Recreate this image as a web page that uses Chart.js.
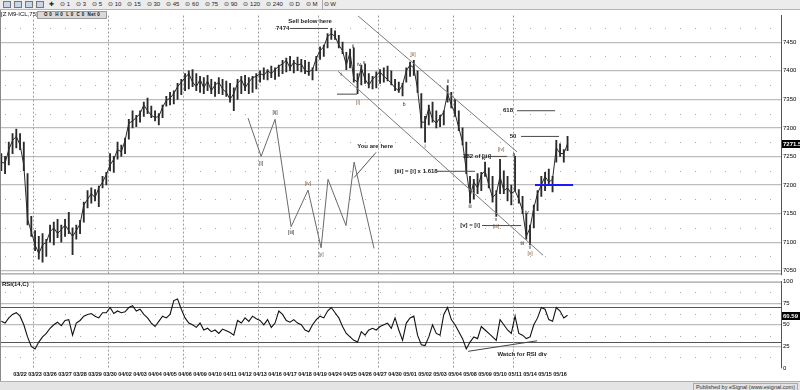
<!DOCTYPE html>
<html>
<head>
<meta charset="utf-8">
<title>Z M9-ICL 75 min with RSI</title>
<script src="https://cdn.jsdelivr.net/npm/chart.js@4.4.1/dist/chart.umd.min.js"></script>
<style>
  body { margin: 0; width: 800px; height: 390px; overflow: hidden; position: relative; background: #fff; font-family: "Liberation Sans", Arial, sans-serif; color: #111; }
  #toolbar { position: absolute; left: 0; top: 0; width: 800px; height: 9px; background: #ececec; border-bottom: 1px solid #b5b5b5; font-size: 6px; line-height: 9px; white-space: nowrap; display: flex; align-items: center; }
  #toolbar .ico { display: inline-block; width: 6px; height: 5px; margin-left: 3px; border: 1px solid #777; background: #c9d6e8; }
  #toolbar .iv { margin-left: 6px; color: #222; }
  #toolbar .sep { position: absolute; left: 322px; top: 0; width: 1px; height: 9px; background: #aaa; }
  #symbol { position: absolute; left: 1px; top: 11px; font-size: 6px; line-height: 7px; }
  #ohlc { position: absolute; left: 37px; top: 11px; width: 68px; height: 6px; background: #d9d9d9; border: 1px solid #9a9a9a; font-size: 4.5px; line-height: 6px; text-align: center; font-weight: bold; letter-spacing: 0.3px; }
  #rsiTitle { position: absolute; left: 2px; top: 281px; font-size: 6px; font-weight: bold; z-index: 2; }
  canvas { position: absolute; left: 0; }
  #priceChart { top: 10px; }
  #rsiChart { top: 276px; }
  #frameLeft { position: absolute; left: 0; top: 10px; width: 1px; height: 371px; background: #8a8a8a; }
  #status { position: absolute; left: 0; top: 381px; width: 800px; height: 9px; background: #e4e4e4; border-top: 1px solid #b0b0b0; }
  #status span { position: absolute; right: 2px; top: 1px; font-size: 5.5px; line-height: 6px; border: 1px solid #aaa; padding: 0 2px; color: #333; }
</style>
</head>
<body>
<div id="toolbar">
  <span class="ico"></span><span class="ico"></span><span class="ico"></span><span class="ico"></span>
  <span class="iv" style="margin-left:5px">✚</span>
  <span class="iv">⊙ 1</span><span class="iv">⊙ 3</span><span class="iv">⊙ 5</span><span class="iv">⊙ 10</span>
  <span class="iv">⊙ 15</span><span class="iv">⊙ 30</span><span class="iv">⊙ 45</span><span class="iv">⊙ 60</span>
  <span class="iv">⊙ 75</span><span class="iv">⊙ 90</span><span class="iv">⊙ 120</span><span class="iv">⊙ 240</span>
  <span class="iv">⊙ D</span><span class="iv">⊙ M</span><span class="iv">⊙ W</span>
  <span class="sep"></span>
</div>
<canvas id="priceChart" width="800" height="270"></canvas>
<canvas id="rsiChart" width="800" height="104"></canvas>
<div id="symbol">[Z M9-ICL,75]</div>
<div id="ohlc">O 0 &nbsp;H 0 &nbsp;L 0 &nbsp;C 0 &nbsp;Net 0</div>
<div id="rsiTitle">RSI(14,C)</div>
<div id="frameLeft"></div>
<div id="status"><span>Published by eSignal (www.esignal.com)</span></div>

<script>
// date labels, one per trading day (x axis is in days, 0 = 03/22)
const dateLabels = ["03/22", "03/23", "03/26", "03/27", "03/28", "03/29", "03/30", "04/02", "04/03", "04/04",
  "04/05", "04/06", "04/09", "04/10", "04/11", "04/12", "04/13", "04/16", "04/17", "04/18",
  "04/19", "04/24", "04/25", "04/26", "04/27", "04/30", "05/01", "05/02", "05/03", "05/04",
  "05/08", "05/09", "05/10", "05/11", "05/14", "05/15", "05/16"];
const weekMarks = [1, 6, 11, 16, 20, 24, 29, 33];
const priceTicks = [7050, 7100, 7150, 7200, 7250, 7300, 7350, 7400, 7450];
const rsiTicks = [0, 25, 30, 50, 70, 75, 100];

// bars: 4 per day, first one at day -1.25
const firstBarDay = -1.25;
const barsPerDay = 4;
const barLows = [
  7225, 7220, 7235, 7255, 7265, 7262, 7225, 7130, 7110, 7085,
  7070, 7065, 7075, 7100, 7095, 7108, 7100, 7110, 7115, 7078,
  7105, 7115, 7135, 7160, 7168, 7172, 7162, 7195, 7200, 7225,
  7222, 7245, 7250, 7255, 7280, 7300, 7302, 7310, 7320, 7325,
  7318, 7312, 7305, 7318, 7338, 7340, 7342, 7350, 7358, 7365,
  7368, 7372, 7365, 7362, 7360, 7365, 7360, 7355, 7360, 7358,
  7355, 7345, 7330, 7350, 7360, 7365, 7360, 7362, 7368, 7380,
  7385, 7384, 7388, 7385, 7390, 7395, 7398, 7400, 7396, 7400,
  7398, 7395, 7392, 7384, 7400, 7420, 7425, 7440, 7455, 7455,
  7440, 7430, 7402, 7405, 7380, 7360, 7375, 7378, 7370, 7368,
  7370, 7378, 7380, 7382, 7375, 7365, 7362, 7356, 7380, 7390,
  7392, 7362, 7300, 7275, 7305, 7310, 7300, 7302, 7305, 7345,
  7335, 7320, 7295, 7270, 7220, 7168, 7175, 7185, 7190, 7215,
  7195, 7170, 7145, 7185, 7185, 7172, 7165, 7190, 7168, 7150,
  7105, 7095, 7125, 7155, 7180, 7190, 7200, 7188, 7240, 7250,
  7240, 7260];
const barHighs = [
  7255, 7250, 7275, 7290, 7298, 7290, 7275, 7220, 7145, 7120,
  7110, 7115, 7105, 7130, 7135, 7140, 7130, 7140, 7152, 7125,
  7130, 7138, 7170, 7190, 7195, 7192, 7198, 7215, 7222, 7255,
  7250, 7275, 7270, 7282, 7315, 7330, 7322, 7330, 7345, 7352,
  7338, 7330, 7325, 7340, 7355, 7362, 7365, 7378, 7385, 7395,
  7400, 7402, 7395, 7390, 7388, 7392, 7385, 7380, 7388, 7385,
  7382, 7378, 7370, 7385, 7390, 7392, 7388, 7390, 7395, 7400,
  7405, 7402, 7408, 7405, 7410, 7418, 7422, 7425, 7418, 7424,
  7420, 7418, 7415, 7405, 7425, 7442, 7445, 7465, 7474, 7470,
  7462, 7450, 7432, 7438, 7440, 7395, 7410, 7412, 7395, 7390,
  7398, 7402, 7405, 7408, 7400, 7385, 7380, 7378, 7405, 7415,
  7418, 7400, 7360, 7320, 7340, 7345, 7330, 7322, 7330, 7374,
  7362, 7350, 7330, 7300, 7275, 7215, 7210, 7220, 7222, 7240,
  7230, 7215, 7190, 7245, 7225, 7215, 7200, 7250, 7192, 7180,
  7150, 7130, 7165, 7190, 7215, 7222, 7228, 7215, 7278, 7272,
  7262, 7285];
const barCloses = [
  7240, 7238, 7262, 7278, 7285, 7270, 7235, 7140, 7118, 7095,
  7080, 7095, 7100, 7118, 7125, 7115, 7122, 7130, 7120, 7110,
  7120, 7132, 7165, 7175, 7185, 7178, 7195, 7205, 7218, 7235,
  7245, 7262, 7258, 7278, 7308, 7312, 7318, 7325, 7340, 7330,
  7322, 7318, 7320, 7336, 7348, 7352, 7360, 7372, 7380, 7388,
  7395, 7380, 7372, 7385, 7370, 7382, 7365, 7375, 7380, 7368,
  7362, 7350, 7360, 7378, 7385, 7370, 7380, 7388, 7390, 7395,
  7392, 7400, 7395, 7402, 7408, 7412, 7418, 7405, 7415, 7410,
  7412, 7400, 7398, 7402, 7422, 7435, 7442, 7460, 7465, 7460,
  7445, 7435, 7410, 7432, 7385, 7380, 7405, 7385, 7375, 7385,
  7392, 7398, 7390, 7385, 7378, 7370, 7365, 7375, 7400, 7410,
  7405, 7368, 7310, 7310, 7335, 7315, 7308, 7318, 7328, 7360,
  7340, 7325, 7300, 7275, 7225, 7180, 7205, 7195, 7218, 7225,
  7200, 7178, 7185, 7215, 7190, 7195, 7185, 7190, 7175, 7155,
  7110, 7125, 7160, 7185, 7200, 7215, 7205, 7210, 7265, 7255,
  7255, 7272];
const rsiValues = [
  54, 52, 58, 62, 64, 60, 50, 36, 25, 22,
  30, 36, 40, 46, 50, 53, 49, 55, 56, 38,
  52, 55, 60, 62, 63, 60, 58, 64, 64, 70,
  63, 66, 64, 65, 70, 72, 66, 68, 62, 58,
  52, 48, 54, 60, 58, 62, 78, 80, 68, 58,
  52, 50, 47, 52, 44, 46, 42, 44, 40, 45,
  43, 41, 38, 55, 52, 58, 54, 60, 57, 55,
  50, 56, 47, 52, 66, 62, 55, 53, 56, 52,
  50, 44, 42, 50, 56, 60, 58, 66, 70, 64,
  58, 48, 40, 36, 32, 30, 42, 38, 44, 46,
  44, 48, 50, 52, 46, 58, 44, 32, 52, 58,
  60, 38, 27, 26, 36, 50, 40, 38, 62, 70,
  56, 50, 42, 34, 22, 30, 36, 34, 48, 44,
  40, 36, 32, 56, 50, 44, 40, 60, 40, 38,
  34, 36, 50, 58, 70, 68, 56, 54, 70, 66,
  58, 61];
const lastPrice = 7271.5;
const lastRsi = 60.59;

// drawn annotations, in [day, price] units
const upperChannel = [[22.53, 7496], [33.13, 7258]];
const lowerChannel = [[21.2, 7399], [34.87, 7077]];
const projection = [[15.2, 7317], [16.07, 7250], [17.0, 7315], [18.07, 7127], [19.2, 7191],
  [20.07, 7090], [20.53, 7210], [21.73, 7129], [22.27, 7240], [23.6, 7089]];
const youAreHereArrow = [[23.73, 7257], [22.27, 7213]];
const levelLines = [
  [18, 20.53, 7474],
  [21.13, 22.47, 7359],
  [33.13, 35.67, 7330],
  [33.4, 35.93, 7285],
  [31.2, 32.47, 7250],
  [27.8, 30.33, 7224],
  [30.8, 33.4, 7129]
];
const blueLevel = [34.33, 36.87, 7200];
const rsiDivLine = [[29.87, 19.3], [34.47, 31.5]];

const priceNotes = [
  [19.33, 7486, "Sell below here", "note"],
  [17.95, 7475, "7474", "noteR"],
  [23.67, 7268, "You are here", "note"],
  [32.53, 7330, "618", "note"],
  [32.87, 7285, "50", "note"],
  [30.47, 7250, "382 of [iii]", "note"],
  [26.4, 7224, "[iii] = [i] x 1.618", "note"],
  [30.0, 7129, "[v] = [i]", "note"],
  [16.07, 7238, "[i]", "wave"],
  [17.0, 7327, "[ii]", "wave"],
  [18.07, 7116, "[iii]", "wave"],
  [19.2, 7202, "[iv]", "waveB"],
  [20.07, 7078, "[v]", "waveB"],
  [21.4, 7394, "i", "wave"],
  [22.2, 7443, "ii", "wave"],
  [22.53, 7345, "[i]", "waveB"],
  [22.6, 7410, "iv", "wave"],
  [22.93, 7415, "v", "wave"],
  [25.6, 7340, "b", "wave"],
  [26.2, 7428, "[ii]", "waveB"],
  [27.0, 7268, "i", "wave"],
  [28.53, 7381, "ii", "wave"],
  [30.0, 7162, "iii", "wave"],
  [30.93, 7247, "iv", "wave"],
  [31.73, 7140, "v", "wave"],
  [31.73, 7127, "[iii]", "waveB"],
  [32.07, 7262, "[iv]", "waveB"],
  [32.93, 7253, "a", "wave"],
  [33.47, 7097, "iii", "wave"],
  [33.8, 7152, "iv", "wave"],
  [34.0, 7091, "v", "wave"],
  [34.0, 7079, "[v]", "waveB"]
];
const rsiNotes = [[33.47, 15.5, "Watch for RSI div", "note"]];

const axisStart = -1.27;
const axisEnd = 50.73;
const FONT = '"Liberation Sans", Arial, sans-serif';
Chart.defaults.font.family = FONT;
Chart.defaults.color = "#000";

function pts(list) {
  return list.map(p => ({ x: p[0], y: p[1] }));
}
function lineSet(list, color, width) {
  return { type: "line", data: pts(list), borderColor: color, borderWidth: width, pointRadius: 0, fill: false, tension: 0, order: 1 };
}
function barDay(i) {
  return firstBarDay + i / barsPerDay;
}

// dotted minor grid, weekly dashed lines, panel borders and last-value box
const panelGrid = {
  id: "panelGrid",
  beforeDatasetsDraw(chart, args, opts) {
    const { ctx, chartArea: a, scales: { x, y } } = chart;
    ctx.save();
    ctx.fillStyle = "#a9a9a9";
    opts.dotLevels.forEach(v => {
      const py = Math.round(y.getPixelForValue(v));
      for (let d = -1; d <= 50; d++) {
        ctx.fillRect(Math.round(x.getPixelForValue(d)), py, 1, 1);
      }
    });
    ctx.strokeStyle = "#9c9c9c";
    ctx.lineWidth = 1;
    ctx.setLineDash([2, 2]);
    weekMarks.forEach(d => {
      const px = Math.round(x.getPixelForValue(d - 0.13)) + 0.5;
      ctx.beginPath();
      ctx.moveTo(px, a.top);
      ctx.lineTo(px, a.bottom);
      ctx.stroke();
    });
    ctx.restore();
  },
  afterDraw(chart, args, opts) {
    const { ctx, chartArea: a, scales: { y } } = chart;
    ctx.save();
    ctx.strokeStyle = "#8a8a8a";
    ctx.lineWidth = 1;
    const edge = opts.edge === "top" ? a.top + 0.5 : a.bottom - 0.5;
    ctx.beginPath();
    ctx.moveTo(0, edge);
    ctx.lineTo(a.right, edge);
    ctx.stroke();
    const vy = Math.round(y.getPixelForValue(opts.lastValue));
    ctx.fillStyle = "#000";
    ctx.fillRect(a.right + 1, vy - 4, 19, 8);
    ctx.fillStyle = "#fff";
    ctx.font = "bold 6px " + FONT;
    ctx.textBaseline = "middle";
    ctx.textAlign = "left";
    ctx.fillText(opts.lastText, a.right + 2, vy);
    ctx.restore();
  }
};

const notes = {
  id: "notes",
  afterDatasetsDraw(chart, args, opts) {
    const { ctx, scales: { x, y } } = chart;
    ctx.save();
    ctx.textBaseline = "middle";
    opts.items.forEach(([d, v, text, kind]) => {
      const isNote = kind.startsWith("note");
      ctx.font = isNote ? "bold 6px " + FONT : "5px " + FONT;
      ctx.fillStyle = kind === "waveB" ? "#7a5230" : "#1e1e1e";
      ctx.textAlign = kind === "noteR" ? "right" : "center";
      ctx.fillText(text, x.getPixelForValue(d), y.getPixelForValue(v));
    });
    ctx.restore();
  }
};

const priceDatasets = [
  {
    type: "bar",
    data: barLows.map((lo, i) => ({ x: barDay(i), y: [lo, barHighs[i]] })),
    backgroundColor: "#2a2a2a",
    barThickness: 1.2,
    order: 2
  },
  {
    type: "line",
    data: barCloses.map((c, i) => ({ x: barDay(i), y: c })),
    borderColor: "#2a2a2a",
    borderWidth: 1,
    pointRadius: 0,
    tension: 0,
    fill: false,
    order: 2
  },
  lineSet(projection, "#6a6a6a", 1),
  lineSet(upperChannel, "#7a7a7a", 1),
  lineSet(lowerChannel, "#7a7a7a", 1),
  lineSet(youAreHereArrow, "#555", 1),
  ...levelLines.map(l => lineSet([[l[0], l[2]], [l[1], l[2]]], "#4a4a4a", 1)),
  lineSet([[blueLevel[0], blueLevel[2]], [blueLevel[1], blueLevel[2]]], "#1a1aff", 2)
];

new Chart(document.getElementById("priceChart"), {
  type: "bar",
  data: { datasets: priceDatasets },
  options: {
    responsive: false,
    animation: false,
    layout: { padding: { left: 1, top: 0, right: 0, bottom: 0 } },
    plugins: {
      legend: { display: false },
      tooltip: { enabled: false },
      panelGrid: { dotLevels: [7075, 7125, 7175, 7225, 7275, 7325, 7375, 7425, 7475], lastValue: lastPrice, lastText: lastPrice.toFixed(1), edge: "bottom" },
      notes: { items: priceNotes }
    },
    scales: {
      x: { type: "linear", min: axisStart, max: axisEnd, offset: false, display: false },
      y: {
        position: "right",
        min: 7043.5,
        max: 7496.5,
        afterBuildTicks: s => { s.ticks = priceTicks.map(v => ({ value: v })); },
        afterFit: s => { s.width = 19; },
        ticks: { padding: 2, font: { size: 6 }, color: "#000", callback: v => String(v) },
        grid: { color: "#bdbdbd", lineWidth: 1.2, drawTicks: false },
        border: { color: "#555", width: 1 }
      }
    }
  },
  plugins: [panelGrid, notes]
});

new Chart(document.getElementById("rsiChart"), {
  type: "line",
  data: {
    datasets: [
      {
        data: rsiValues.map((v, i) => ({ x: barDay(i), y: v })),
        borderColor: "#111",
        borderWidth: 1.1,
        pointRadius: 0,
        tension: 0,
        fill: false
      },
      lineSet(rsiDivLine, "#444", 1)
    ]
  },
  options: {
    responsive: false,
    animation: false,
    layout: { padding: { left: 1, top: 4, right: 0, bottom: 0 } },
    plugins: {
      legend: { display: false },
      tooltip: { enabled: false },
      panelGrid: { dotLevels: [12.5, 37.5, 62.5, 87.5], lastValue: lastRsi, lastText: lastRsi.toFixed(2), edge: "top" },
      notes: { items: rsiNotes }
    },
    scales: {
      x: {
        type: "linear",
        min: axisStart,
        max: axisEnd,
        offset: false,
        afterBuildTicks: s => { s.ticks = dateLabels.map((_, i) => ({ value: i })); },
        afterFit: s => { s.height = 12; },
        ticks: {
          autoSkip: false, maxRotation: 0, minRotation: 0, padding: 3,
          font: { size: 5.5, weight: "bold" }, color: "#111",
          callback: (v, i) => dateLabels[i]
        },
        grid: { display: false, drawTicks: false },
        border: { display: false }
      },
      y: {
        position: "right",
        min: 0,
        max: 100,
        afterBuildTicks: s => { s.ticks = rsiTicks.map(v => ({ value: v })); },
        afterFit: s => { s.width = 19; },
        ticks: { padding: 2, font: { size: 6 }, color: "#000", callback: v => (v === 30 || v === 70) ? "" : String(v) },
        grid: {
          drawTicks: false,
          color: c => {
            const v = c.tick && c.tick.value;
            if (v === 30 || v === 70) return "#555";
            if (v === 0 || v === 100) return "transparent";
            return "#bdbdbd";
          },
          lineWidth: c => (c.tick && (c.tick.value === 30 || c.tick.value === 70)) ? 1 : 1.3
        },
        border: { color: "#555", width: 1 }
      }
    }
  },
  plugins: [panelGrid, notes]
});
</script>
</body>
</html>
